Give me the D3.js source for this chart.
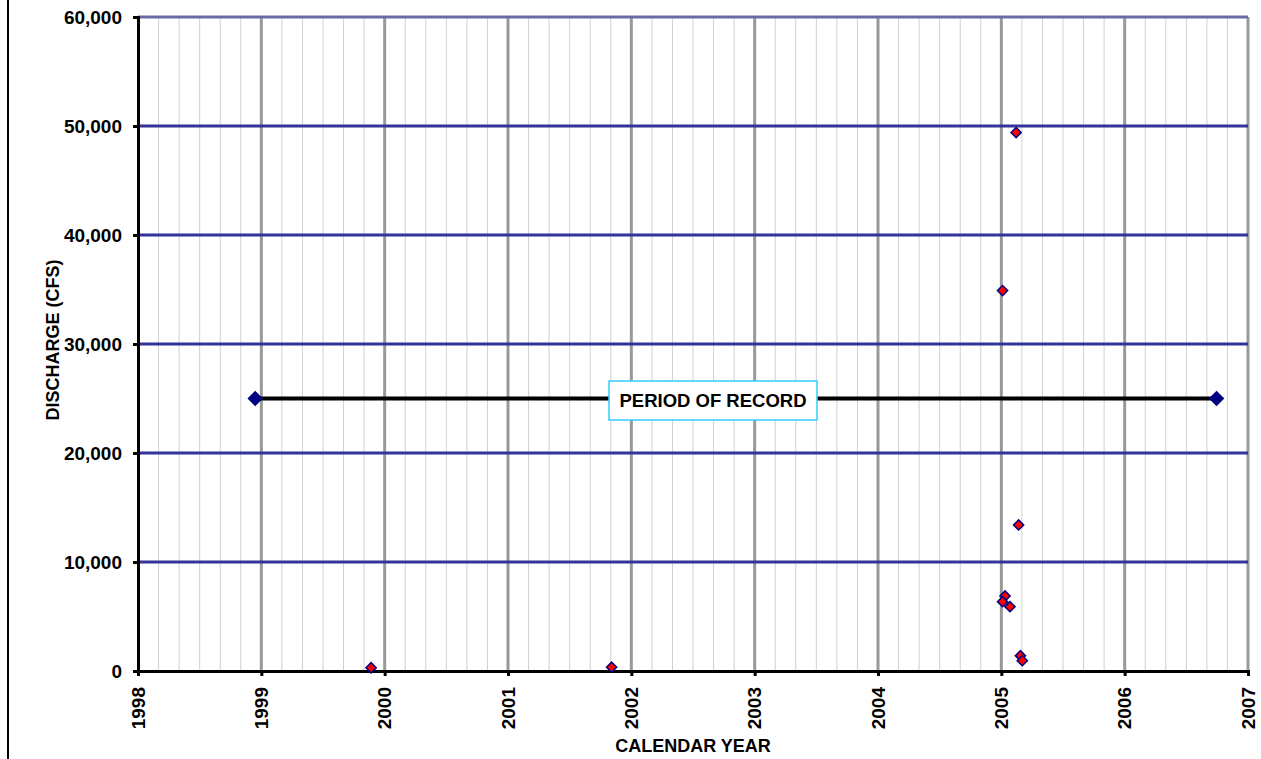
<!DOCTYPE html>
<html>
<head>
<meta charset="utf-8">
<script src="https://cdn.jsdelivr.net/npm/d3@7"></script>
<style>
  body { margin: 0; background: #fff; }
  svg { display: block; font-family: Arial, "Liberation Sans", sans-serif; }
  .ticklabel { font: bold 19px Arial, "Liberation Sans", sans-serif; }
</style>
</head>
<body>
<svg id="chart" width="1261" height="759"></svg>
<script>
// ---- data ----
const sampleYears  = [1999.89, 2001.84, 2005.01, 2005.03, 2005.01, 2005.07, 2005.12, 2005.14, 2005.155, 2005.17];
const sampleValues = [300, 350, 34900, 6880, 6360, 5900, 49400, 13400, 1400, 950];
const recordYears  = [1998.95, 2006.745];
const recordValues = [25000, 25000];
const yearTicks    = [1998, 1999, 2000, 2001, 2002, 2003, 2004, 2005, 2006, 2007];
const valueTicks   = [0, 10000, 20000, 30000, 40000, 50000, 60000];
const recordLabel  = "PERIOD OF RECORD";
const xTitle = "CALENDAR YEAR";
const yTitle = "DISCHARGE (CFS)";

// ---- layout ----
const svg = d3.select("#chart");
const L = 138, R = 1248, T = 17, B = 671;
const x = d3.scaleLinear().domain([1998, 2007]).range([L, R]);
const y = d3.scaleLinear().domain([0, 60000]).range([B, T]);
const fmtY = d3.format(",");
const fmtX = d3.format("d");

// chart-area left border
svg.append("line").attr("x1", 8).attr("x2", 8).attr("y1", 0).attr("y2", 759)
  .attr("stroke", "#000").attr("stroke-width", 2);

// minor vertical gridlines (every 2 months)
const minor = d3.range(1998, 2007, 1/6).filter(v => Math.abs(v - Math.round(v)) > 1e-6);
svg.append("g").selectAll("line").data(minor).join("line")
  .attr("x1", d => x(d)).attr("x2", d => x(d)).attr("y1", T).attr("y2", B)
  .attr("stroke", "#d0d0d0").attr("stroke-width", 1);

// major vertical gridlines
svg.append("g").selectAll("line").data(yearTicks.slice(1)).join("line")
  .attr("x1", d => x(d)).attr("x2", d => x(d)).attr("y1", T).attr("y2", B)
  .attr("stroke", "#999").attr("stroke-width", 3);

// horizontal gridlines
svg.append("g").selectAll("line").data(valueTicks.slice(1)).join("line")
  .attr("x1", L).attr("x2", R).attr("y1", d => y(d)).attr("y2", d => y(d))
  .attr("stroke", d => d === 60000 ? "#6a6aa8" : "#333399").attr("stroke-width", 3);

// axes (lines + ticks from d3.axis, labels placed from the same scales)
const yAxis = svg.append("g").attr("transform", `translate(${L},0)`)
  .call(d3.axisLeft(y).tickValues(valueTicks).tickSize(5).tickFormat(""));
yAxis.select(".domain").attr("stroke", "#000").attr("stroke-width", 3);
yAxis.selectAll(".tick line").attr("stroke", "#000").attr("stroke-width", 3);
svg.append("g").selectAll("text").data(valueTicks).join("text")
  .attr("class", "ticklabel")
  .attr("x", L - 16).attr("y", d => y(d)).attr("dy", "0.35em")
  .attr("text-anchor", "end")
  .text(d => fmtY(d));

const xAxis = svg.append("g").attr("transform", `translate(0,${B})`)
  .call(d3.axisBottom(x).tickValues(yearTicks).tickSize(5).tickFormat(""));
xAxis.select(".domain").attr("stroke", "#000").attr("stroke-width", 3);
xAxis.selectAll(".tick line").attr("stroke", "#000").attr("stroke-width", 3);
svg.append("g").selectAll("text").data(yearTicks).join("text")
  .attr("class", "ticklabel")
  .attr("transform", d => `translate(${x(d)},${B + 16}) rotate(-90)`)
  .attr("dy", "0.35em").attr("text-anchor", "end")
  .text(d => fmtX(d));

// axis titles
svg.append("text").attr("transform", `translate(59,340) rotate(-90)`)
  .attr("text-anchor", "middle").attr("font-size", 18).attr("font-weight", "bold").text(yTitle);
svg.append("text").attr("x", 693).attr("y", 752)
  .attr("text-anchor", "middle").attr("font-size", 18).attr("font-weight", "bold").text(xTitle);

// period of record line
const rec = recordYears.map((d, i) => [d, recordValues[i]]);
svg.append("path").datum(rec)
  .attr("d", d3.line().x(d => x(d[0])).y(d => y(d[1])))
  .attr("stroke", "#000").attr("stroke-width", 4).attr("fill", "none");
const bigDiamond = d3.symbol().type(d3.symbolSquare).size(120);
svg.append("g").selectAll("path").data(rec).join("path")
  .attr("transform", d => `translate(${x(d[0])},${y(d[1])}) rotate(45)`)
  .attr("d", bigDiamond).attr("fill", "#000080");

// label box
const midX = 713;
const boxW = 208, boxH = 39;
svg.append("rect").attr("x", midX - boxW / 2).attr("y", y(25000) - boxH / 2 + 2)
  .attr("width", boxW).attr("height", boxH)
  .attr("fill", "#fff").attr("stroke", "#33ccff").attr("stroke-width", 1.5);
svg.append("text").attr("x", midX).attr("y", y(25000) + 2).attr("dy", "0.35em")
  .attr("text-anchor", "middle").attr("font-size", 18.5).attr("font-weight", "bold").text(recordLabel);

// sample points
const smallDiamond = d3.symbol().type(d3.symbolSquare).size(52);
svg.append("g").selectAll("path").data(sampleYears.map((d, i) => [d, sampleValues[i]])).join("path")
  .attr("transform", d => `translate(${x(d[0])},${y(d[1])}) rotate(45)`)
  .attr("d", smallDiamond).attr("fill", "#ff0000").attr("stroke", "#000080").attr("stroke-width", 1.5);
</script>
</body>
</html>
